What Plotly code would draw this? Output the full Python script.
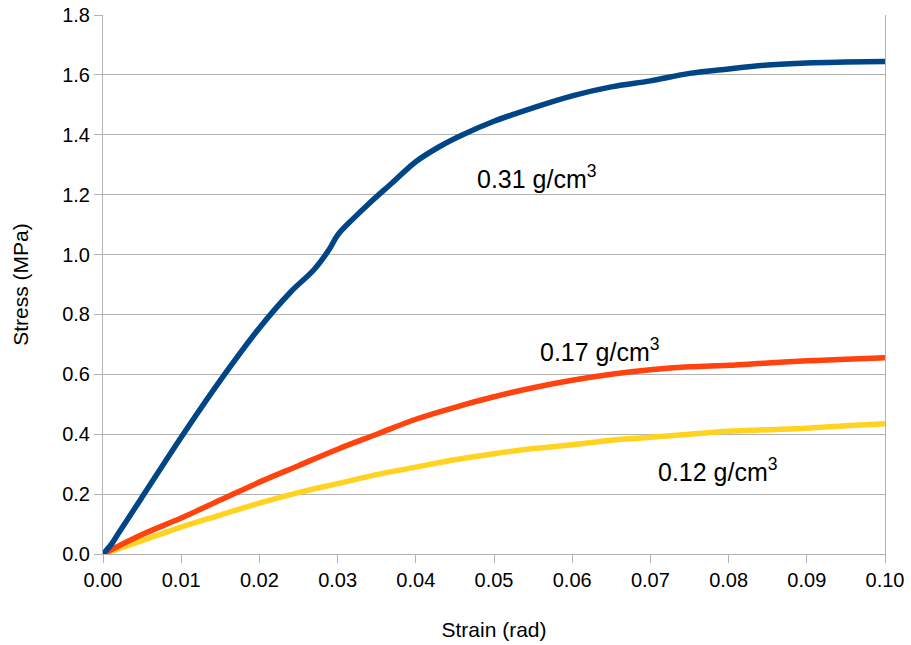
import plotly.graph_objects as go

strain_031 = [0, 0.001, 0.002, 0.005, 0.01, 0.015, 0.02, 0.024, 0.027, 0.029, 0.030, 0.032, 0.034,
              0.037, 0.040, 0.043, 0.046, 0.050, 0.055, 0.060, 0.065, 0.070, 0.075, 0.080, 0.085,
              0.090, 0.095, 0.100]
stress_031 = [0, 0.03, 0.07, 0.19, 0.39, 0.58, 0.755, 0.875, 0.95, 1.02, 1.065, 1.12, 1.17,
              1.24, 1.31, 1.36, 1.40, 1.445, 1.49, 1.53, 1.56, 1.58, 1.605, 1.62, 1.633,
              1.64, 1.643, 1.645]

strain_017 = [0, 0.005, 0.01, 0.015, 0.02, 0.025, 0.03, 0.035, 0.04, 0.045, 0.05, 0.055, 0.06,
              0.065, 0.07, 0.075, 0.08, 0.085, 0.09, 0.095, 0.10]
stress_017 = [0, 0.065, 0.12, 0.18, 0.24, 0.295, 0.35, 0.40, 0.45, 0.49, 0.525, 0.555, 0.58,
              0.60, 0.615, 0.625, 0.63, 0.638, 0.645, 0.65, 0.655]

strain_012 = [0, 0.005, 0.01, 0.015, 0.02, 0.025, 0.03, 0.035, 0.04, 0.045, 0.05, 0.055, 0.06,
              0.065, 0.07, 0.075, 0.08, 0.085, 0.09, 0.095, 0.10]
stress_012 = [0, 0.045, 0.09, 0.13, 0.17, 0.205, 0.235, 0.265, 0.29, 0.315, 0.335, 0.352, 0.365,
              0.38, 0.39, 0.40, 0.41, 0.415, 0.42, 0.428, 0.435]

labels = ["0.31 g/cm<sup>3</sup>", "0.17 g/cm<sup>3</sup>", "0.12 g/cm<sup>3</sup>"]
label_x = [0.0476, 0.0556, 0.0707]
label_y = [1.26, 0.68, 0.28]

x_ticks = [0.00, 0.01, 0.02, 0.03, 0.04, 0.05, 0.06, 0.07, 0.08, 0.09, 0.10]
y_ticks = [0.0, 0.2, 0.4, 0.6, 0.8, 1.0, 1.2, 1.4, 1.6, 1.8]

fig = go.Figure()
for xs, ys, col in [(strain_012, stress_012, "#ffd320"),
                    (strain_017, stress_017, "#ff420e"),
                    (strain_031, stress_031, "#004586")]:
    fig.add_trace(go.Scatter(x=xs, y=ys, mode="lines", line=dict(color=col, width=5.5),
                             showlegend=False, line_shape="spline", cliponaxis=False))

for t, lx, ly in zip(labels, label_x, label_y):
    fig.add_annotation(x=lx, y=ly, text=t, showarrow=False, xanchor="left", yanchor="middle",
                       font=dict(size=25, color="black"))

fig.update_layout(
    width=911, height=645,
    margin=dict(l=103, r=26, t=15, b=91, autoexpand=False),
    paper_bgcolor="white", plot_bgcolor="white",
    font=dict(family="Liberation Sans, Arial, sans-serif", size=20, color="black"),
)
fig.update_xaxes(range=[0, 0.10], tickvals=x_ticks, tickformat=".2f", automargin=False,
                 showgrid=False, zeroline=False, showline=True, linecolor="#b3b3b3", linewidth=1,
                 ticks="outside", ticklen=8, tickcolor="#b3b3b3", tickfont=dict(size=20),
                 title=dict(text="Strain (rad)", font=dict(size=21), standoff=32))
fig.update_yaxes(range=[0, 1.8], tickvals=y_ticks, tickformat=".1f", automargin=False,
                 showgrid=True, gridcolor="#b3b3b3", gridwidth=1, zeroline=False,
                 showline=True, mirror=True, linecolor="#b3b3b3", linewidth=1,
                 ticks="outside", ticklen=8, tickcolor="#b3b3b3", tickfont=dict(size=20),
                 title=dict(text="Stress (MPa)", font=dict(size=21), standoff=27))

fig.write_html("out.html", config={"displayModeBar": False},
               post_script="document.body.style.margin='0px';")
